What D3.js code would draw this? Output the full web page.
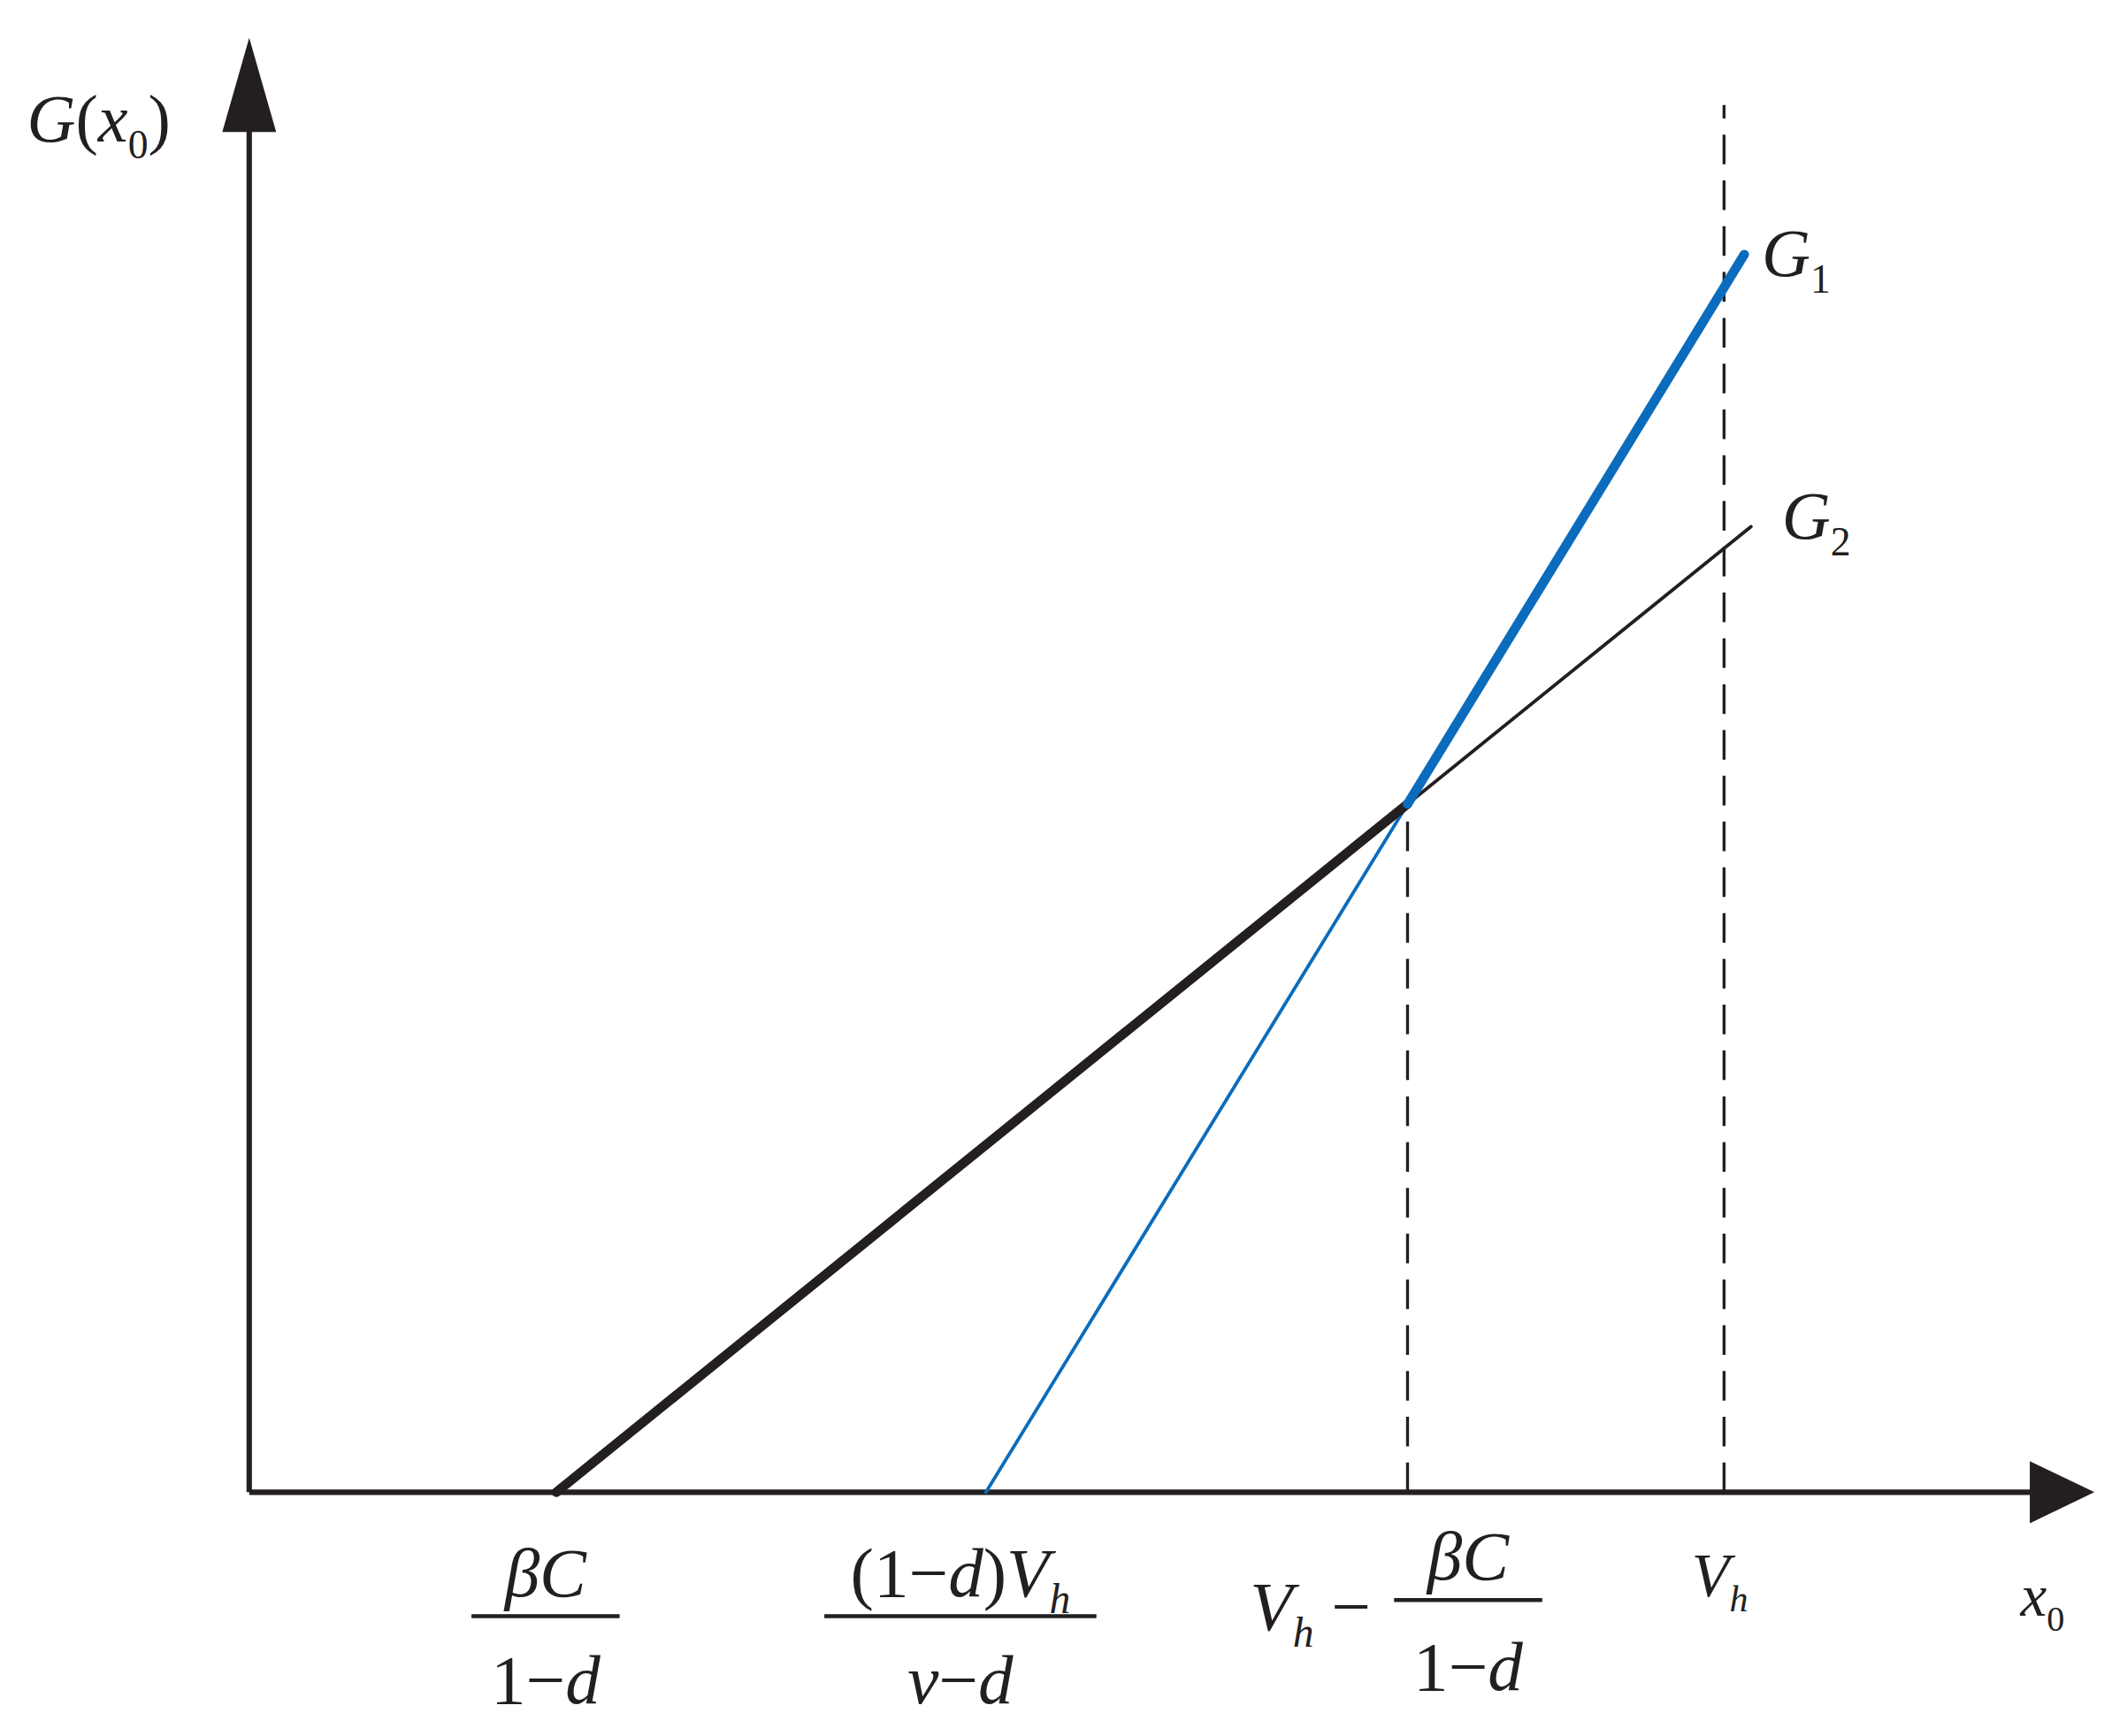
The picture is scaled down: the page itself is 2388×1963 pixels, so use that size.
<!DOCTYPE html>
<html>
<head>
<meta charset="utf-8">
<script src="https://cdn.jsdelivr.net/npm/d3@7"></script>
<style>
  body { margin: 0; background: #fff; }
  text { font-family: "Liberation Serif", "DejaVu Serif", serif; fill: #231f20; }
</style>
</head>
<body>
<svg id="chart" width="2388" height="1963" viewBox="0 0 1568 1289"></svg>
<script>
// key abscissae (axis units)
const xBreakBlack = 2.28;   // βC/(1-d)
const xBreakBlue = 5.47;    // (1-d)Vh/(v-d)
const xCross = 8.60;        // Vh - βC/(1-d)
const xVh = 10.95;          // Vh
const yCross = 5.11;

// line segments [x, y]
const g2Thick = [[xBreakBlack, 0], [xCross, yCross]];
const g2Thin = [[xCross, yCross], [11.15, 7.17]];
const g1Thin = [[xBreakBlue, 0], [xCross, yCross]];
const g1Thick = [[xCross, yCross], [11.10, 9.19]];

const dashLines = [
  { x: xCross, y0: 0, y1: yCross },
  { x: xVh, y0: 0, y1: 10.3 }
];

const svg = d3.select("#chart");
const x = d3.scaleLinear().domain([0, 13.7]).range([185, 1555]);
const y = d3.scaleLinear().domain([0, 10.8]).range([1108, 28]);
const ink = "#231f20", blue = "#0b6cbd";
const line = d3.line().x(d => x(d[0])).y(d => y(d[1]));

// axes
svg.append("line").attr("x1", x(0)).attr("x2", x(13.7) - 45).attr("y1", y(0)).attr("y2", y(0))
  .attr("stroke", ink).attr("stroke-width", 4);
svg.append("line").attr("x1", x(0)).attr("x2", x(0)).attr("y1", y(0)).attr("y2", y(10.8) + 45)
  .attr("stroke", ink).attr("stroke-width", 4);
svg.append("path").attr("fill", ink)
  .attr("d", `M${x(13.7)},${y(0)} L${x(13.7) - 48},${y(0) - 23} L${x(13.7) - 48},${y(0) + 23} Z`);
svg.append("path").attr("fill", ink)
  .attr("d", `M${x(0)},${y(10.8)} L${x(0) - 20},${y(10.8) + 70} L${x(0) + 20},${y(10.8) + 70} Z`);

// dashed guides
svg.selectAll(".dash").data(dashLines).join("line")
  .attr("x1", d => x(d.x)).attr("x2", d => x(d.x))
  .attr("y1", d => y(d.y0)).attr("y2", d => y(d.y1))
  .attr("stroke", ink).attr("stroke-width", 2.2).attr("stroke-dasharray", "22,12");

// curves
const segs = [
  { d: g2Thin, c: ink, w: 2.5 },
  { d: g1Thin, c: blue, w: 2.5 },
  { d: g2Thick, c: ink, w: 7 },
  { d: g1Thick, c: blue, w: 7 }
];
svg.selectAll(".seg").data(segs).join("path")
  .attr("d", d => line(d.d)).attr("fill", "none")
  .attr("stroke", d => d.c).attr("stroke-width", d => d.w).attr("stroke-linecap", "round");

// labels
function label(px, py, parts, size, anchor) {
  const t = svg.append("text").attr("x", px).attr("y", py).attr("font-size", size)
    .attr("text-anchor", anchor || "start");
  parts.forEach(p => {
    const s = t.append("tspan").text(p.t);
    if (p.i) s.attr("font-style", "italic");
    if (p.sub) s.attr("font-size", size * 0.6).attr("dy", size * 0.25);
    if (p.up) s.attr("dy", -size * 0.25);
  });
  return t;
}
function frac(cx, top, bot, w, num, den, size) {
  label(cx, top, num, size, "middle");
  svg.append("line").attr("x1", cx - w / 2).attr("x2", cx + w / 2).attr("y1", top + 15).attr("y2", top + 15)
    .attr("stroke", ink).attr("stroke-width", 3);
  label(cx, bot, den, size, "middle");
}

label(20, 105, [{ t: "G", i: true }, { t: "(" }, { t: "x", i: true }, { t: "0", sub: true }, { t: ")", up: true }], 50);
label(1308, 205, [{ t: "G", i: true }, { t: "1", sub: true }], 50);
label(1323, 400, [{ t: "G", i: true }, { t: "2", sub: true }], 50);
label(1500, 1200, [{ t: "x", i: true }, { t: "0", sub: true }], 44);

frac(x(xBreakBlack) - 8, 1185, 1265, 110, [{ t: "βC", i: true }], [{ t: "1−" }, { t: "d", i: true }], 52);
frac(x(xBreakBlue) - 19, 1185, 1265, 202,
  [{ t: "(1−" }, { t: "d", i: true }, { t: ")" }, { t: "V", i: true }, { t: "h", i: true, sub: true }],
  [{ t: "v", i: true }, { t: "−" }, { t: "d", i: true }], 52);
label(928, 1210, [{ t: "V", i: true }, { t: "h", i: true, sub: true }, { t: " −", up: true }], 52);
frac(1090, 1173, 1255, 110, [{ t: "βC", i: true }], [{ t: "1−" }, { t: "d", i: true }], 52);
label(1256, 1185, [{ t: "V", i: true }, { t: "h", i: true, sub: true }], 46);
</script>
</body>
</html>
